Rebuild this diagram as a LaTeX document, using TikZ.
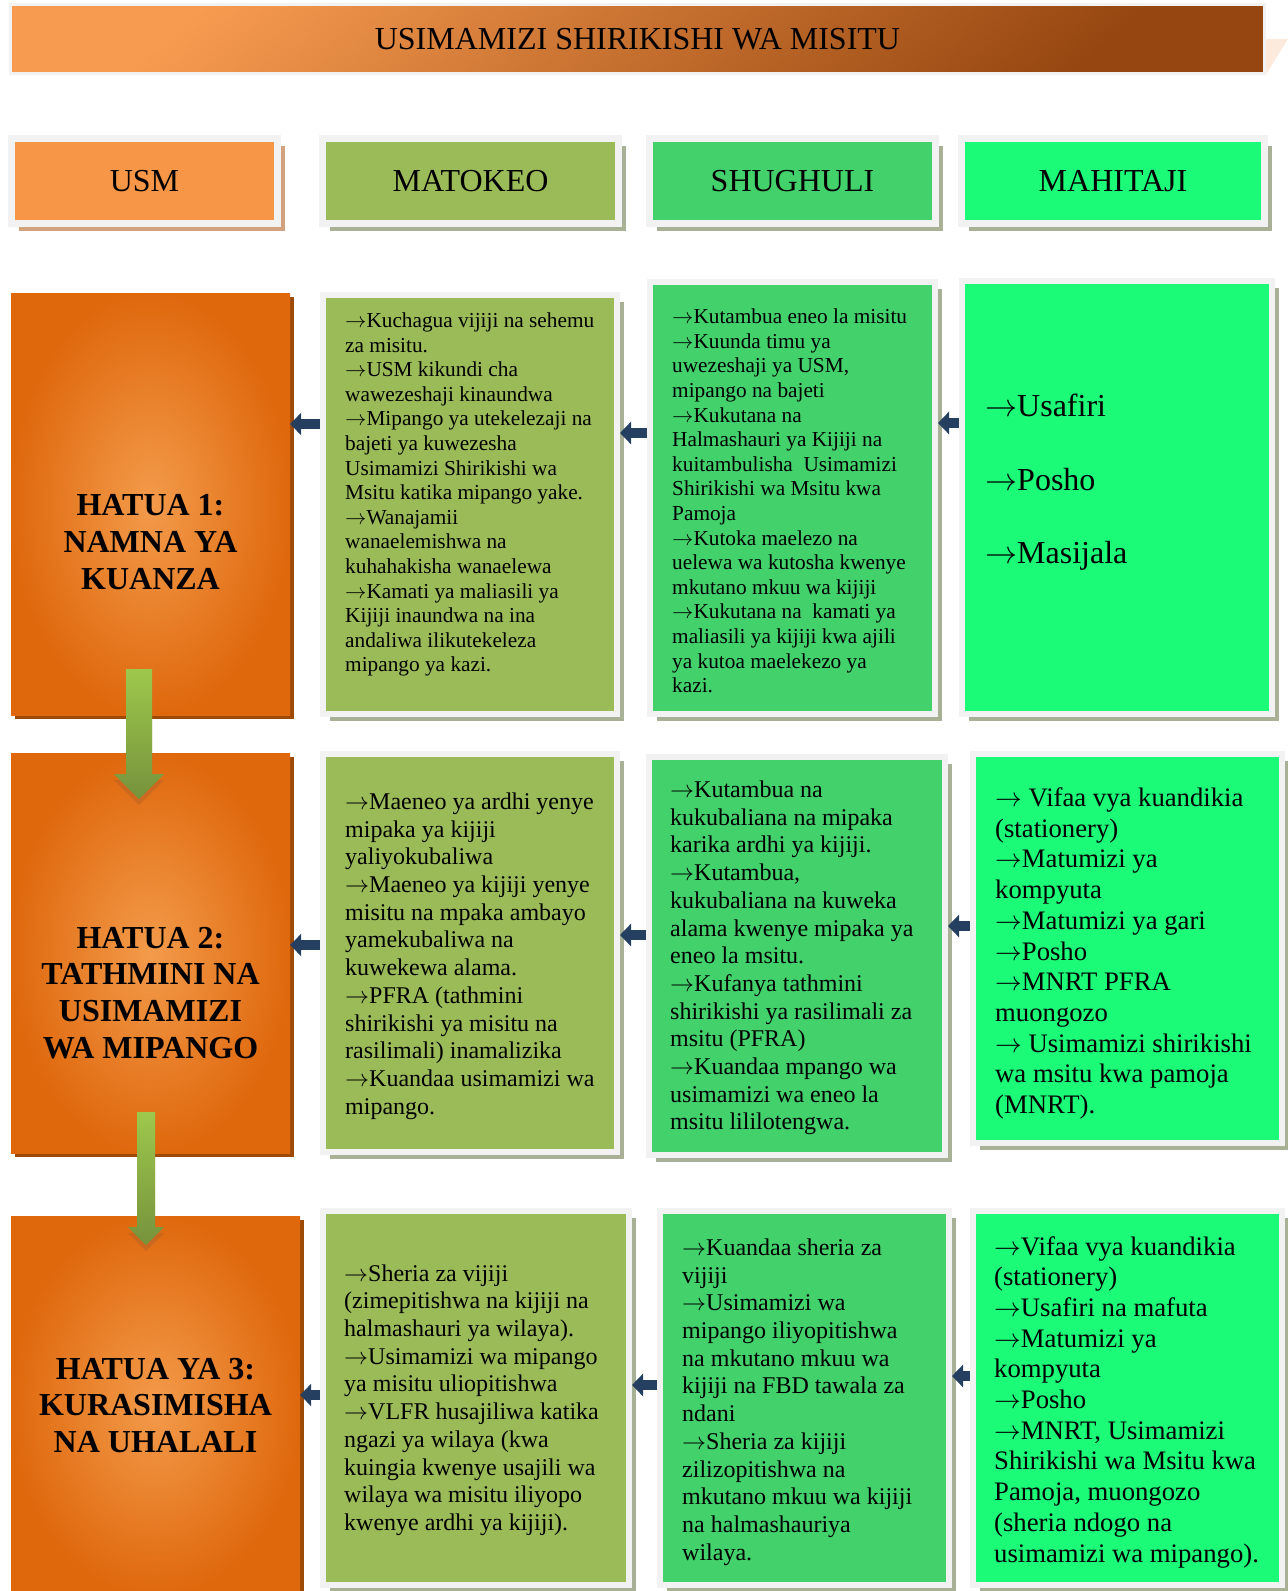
\documentclass[tikz,border=0pt]{standalone}
\usepackage{fontspec}
\setmainfont{Liberation Serif}
\usetikzlibrary{shadows,arrows.meta,calc}

\definecolor{framegray}{HTML}{F2F2F2}
\definecolor{cellshade}{HTML}{A8B095}
\definecolor{usmshade}{HTML}{D2A27F}
\definecolor{usmorange}{HTML}{F79646}
\definecolor{matgreen}{HTML}{9BBB59}
\definecolor{shugreen}{HTML}{43D16B}
\definecolor{mahgreen}{HTML}{1BFB78}
\definecolor{hatuain}{HTML}{F39B4B}
\definecolor{hatuaout}{HTML}{DF680D}
\definecolor{hatuashade}{HTML}{9C4A06}
\definecolor{titlelight}{HTML}{F79B50}
\definecolor{titledark}{HTML}{964610}
\definecolor{titleshade}{HTML}{FCEADC}
\definecolor{navy}{HTML}{243F60}
\definecolor{arrowtop}{HTML}{9DC84C}
\definecolor{arrowbot}{HTML}{76923C}
\definecolor{arrowshade}{HTML}{B0602A}

% long thin arrow in front of each item
\newcommand{\goes}{\resizebox{1em}{!}{$\rightarrow$}}

\tikzset{
  cell/.style={draw=framegray, line width=6pt, inner sep=0pt,
    drop shadow={shadow xshift=7pt, shadow yshift=-7pt, fill=#1, opacity=1}},
  cell/.default=cellshade,
  head/.style={cell=#1, line width=7pt, font=\fontsize{32}{36.8}\selectfont},
  head/.default=cellshade,
  hatua/.style={inner sep=0pt, inner color=hatuain, outer color=hatuaout,
    drop shadow={shadow xshift=4pt, shadow yshift=-4pt, fill=hatuashade, opacity=1}},
  steptext/.style={inner sep=0pt, align=center, font=\fontsize{32}{36.8}\selectfont\bfseries},
  lines/.style={inner sep=0pt, anchor=west, align=left},
  txtS/.style={lines, font=\fontsize{21.3}{24.6}\selectfont},
  txtM/.style={lines, font=\fontsize{24}{27.7}\selectfont},
  txtL/.style={lines, font=\fontsize{26.7}{30.7}\selectfont},
  back/.style={-{Triangle[width=22pt,length=11pt]}, line width=10pt, navy},
}

% green step arrow: #1 top of shaft, #2 tip, #3 half shaft, #4 half head
\newcommand{\stepdown}[4]{%
  \fill[arrowshade, opacity=.45] let \p1=(#1), \p2=(#2) in
    ({\x1-#3},{\y1-6pt}) -- ({\x1+#3},{\y1-6pt}) -- ({\x1+#3},{\y2+#4-6pt}) -- ({\x1+#4},{\y2+#4-6pt})
    -- (\x2,{\y2-6pt}) -- ({\x1-#4},{\y2+#4-6pt}) -- ({\x1-#3},{\y2+#4-6pt}) -- cycle;
  \path[top color=arrowtop, bottom color=arrowbot] let \p1=(#1), \p2=(#2) in
    ({\x1-#3},\y1) -- ({\x1+#3},\y1) -- ({\x1+#3},{\y2+#4}) -- ({\x1+#4},{\y2+#4})
    -- (\x2,\y2) -- ({\x1-#4},{\y2+#4}) -- ({\x1-#3},{\y2+#4}) -- cycle;
}

\begin{document}
\begin{tikzpicture}[x=1pt,y=-1pt]
\useasboundingbox (0,0) rectangle (1288,1591);

% title bar
\fill[titleshade] (1265,39) -- (1288,39) -- (1265,76) -- cycle;
\node[draw=framegray, line width=3pt, top color=titlelight, bottom color=titledark, shading angle=40,
  minimum width=1254pt, minimum height=69pt, font=\fontsize{32}{36.8}\selectfont] (title) at (637.5,39)
  {USIMAMIZI SHIRIKISHI WA MISITU};

% column heads
\node[head=usmshade, fill=usmorange, minimum width=266pt, minimum height=85pt] (hUSM) at (144.5,181) {USM};
\node[head, fill=matgreen, minimum width=296pt, minimum height=85pt] (hMAT) at (470.5,181) {MATOKEO};
\node[head, fill=shugreen, minimum width=286pt, minimum height=85pt] (hSHU) at (792.5,181) {SHUGHULI};
\node[head, fill=mahgreen, minimum width=303pt, minimum height=85pt] (hMAH) at (1113,181) {MAHITAJI};

% hatua 1
\node[hatua, minimum width=279pt, minimum height=422pt] (r1c1) at (150.5,504) {};
\node[steptext] (s1) at ([yshift=-38pt]r1c1.center) {HATUA 1:\\NAMNA YA\\KUANZA};
\node[cell, fill=matgreen, minimum width=294pt, minimum height=419pt] (r1c2) at (470,504.5) {};
\node[cell, fill=shugreen, minimum width=285pt, minimum height=432pt] (r1c3) at (792.5,498) {};
\node[cell, fill=mahgreen, minimum width=310pt, minimum height=433pt] (r1c4) at (1117,497.5) {};

\node[txtS] (t1c2) at ([xshift=25pt,yshift=10pt]r1c2.west) {%
\goes Kuchagua vijiji na sehemu\\
za misitu.\\
\goes USM kikundi cha\\
wawezeshaji kinaundwa\\
\goes Mipango ya utekelezaji na\\
bajeti ya kuwezesha\\
Usimamizi Shirikishi wa\\
Msitu katika mipango yake.\\
\goes Wanajamii\\
wanaelemishwa na\\
kuhahakisha wanaelewa\\
\goes Kamati ya maliasili ya\\
Kijiji inaundwa na ina\\
andaliwa ilikutekeleza\\
mipango ya kazi.};
\node[txtS] (t1c3) at ([xshift=25pt,yshift=-3pt]r1c3.west) {%
\goes Kutambua eneo la misitu\\
\goes Kuunda timu ya\\
uwezeshaji ya USM,\\
mipango na bajeti\\
\goes Kukutana na\\
Halmashauri ya Kijiji na\\
kuitambulisha~ Usimamizi\\
Shirikishi wa Msitu kwa\\
Pamoja\\
\goes Kutoka maelezo na\\
uelewa wa kutosha kwenye\\
mkutano mkuu wa kijiji\\
\goes Kukutana na~ kamati ya\\
maliasili ya kijiji kwa ajili\\
ya kutoa maelekezo ya\\
kazi.};
\node[lines, font=\fontsize{32}{73.5}\selectfont] (t1c4) at ([xshift=26pt,yshift=15pt]r1c4.west) {%
\goes Usafiri\\
\goes Posho\\
\goes Masijala};

% hatua 2
\node[hatua, minimum width=279pt, minimum height=400pt] (r2c1) at (150.5,953) {};
\node[steptext] (s2) at ([yshift=-40pt]r2c1.center) {HATUA 2:\\TATHMINI NA\\USIMAMIZI\\WA MIPANGO};
\node[cell, fill=matgreen, minimum width=294pt, minimum height=398pt] (r2c2) at (470,953) {};
\node[cell, fill=shugreen, minimum width=296pt, minimum height=398pt] (r2c3) at (797,956) {};
\node[cell, fill=mahgreen, minimum width=309pt, minimum height=389pt] (r2c4) at (1127.5,948.5) {};

\node[txtM] (t2c2) at ([xshift=25pt,yshift=-3pt]r2c2.west) {%
\goes Maeneo ya ardhi yenye\\
mipaka ya kijiji\\
yaliyokubaliwa\\
\goes Maeneo ya kijiji yenye\\
misitu na mpaka ambayo\\
yamekubaliwa na\\
kuwekewa alama.\\
\goes PFRA (tathmini\\
shirikishi ya misitu na\\
rasilimali) inamalizika\\
\goes Kuandaa usimamizi wa\\
mipango.};
\node[txtM] (t2c3) at ([xshift=24pt,yshift=-2pt]r2c3.west) {%
\goes Kutambua na\\
kukubaliana na mipaka\\
karika ardhi ya kijiji.\\
\goes Kutambua,\\
kukubaliana na kuweka\\
alama kwenye mipaka ya\\
eneo la msitu.\\
\goes Kufanya tathmini\\
shirikishi ya rasilimali za\\
msitu (PFRA)\\
\goes Kuandaa mpango wa\\
usimamizi wa eneo la\\
msitu lililotengwa.};
\node[txtL] (t2c4) at ([xshift=25pt,yshift=-5pt]r2c4.west) {%
\goes{} Vifaa vya kuandikia\\
(stationery)\\
\goes Matumizi ya\\
kompyuta\\
\goes Matumizi ya gari\\
\goes Posho\\
\goes MNRT PFRA\\
muongozo\\
\goes{} Usimamizi shirikishi\\
wa msitu kwa pamoja\\
(MNRT).};

% hatua 3
\node[hatua, minimum width=289pt, minimum height=379pt] (r3c1) at (155.5,1405.5) {};
\node[steptext] (s3) at (r3c1.center) {HATUA YA 3:\\KURASIMISHA\\NA UHALALI};
\node[cell, fill=matgreen, minimum width=306pt, minimum height=374pt] (r3c2) at (476,1398) {};
\node[cell, fill=shugreen, minimum width=289pt, minimum height=374pt] (r3c3) at (804.5,1398) {};
\node[cell, fill=mahgreen, minimum width=309pt, minimum height=374pt] (r3c4) at (1127.5,1398) {};

\node[txtM] (t3c2) at ([xshift=24pt,yshift=-2pt]r3c2.west) {%
\goes Sheria za vijiji\\
(zimepitishwa na kijiji na\\
halmashauri ya wilaya).\\
\goes Usimamizi wa mipango\\
ya misitu uliopitishwa\\
\goes VLFR husajiliwa katika\\
ngazi ya wilaya (kwa\\
kuingia kwenye usajili wa\\
wilaya wa misitu iliyopo\\
kwenye ardhi ya kijiji).};
\node[txtM] (t3c3) at ([xshift=25pt,yshift=-4pt]r3c3.west) {%
\goes Kuandaa sheria za\\
vijiji\\
\goes Usimamizi wa\\
mipango iliyopitishwa\\
na mkutano mkuu wa\\
kijiji na FBD tawala za\\
ndani\\
\goes Sheria za kijiji\\
zilizopitishwa na\\
mkutano mkuu wa kijiji\\
na halmashauriya\\
wilaya.};
\node[txtL] (t3c4) at ([xshift=24pt,yshift=-4pt]r3c4.west) {%
\goes Vifaa vya kuandikia\\
(stationery)\\
\goes Usafiri na mafuta\\
\goes Matumizi ya\\
kompyuta\\
\goes Posho\\
\goes MNRT, Usimamizi\\
Shirikishi wa Msitu kwa\\
Pamoja, muongozo\\
(sheria ndogo na\\
usimamizi wa mipango).};

% arrows back to the left
\draw[back] (r1c2.west |- 0,424) -- (r1c1.east |- 0,424);
\draw[back] (r1c3.west |- 0,433) -- (r1c2.east |- 0,433);
\draw[back] (r1c4.west |- 0,423) -- (r1c3.east |- 0,423);
\draw[back] (r2c2.west |- 0,945) -- (r2c1.east |- 0,945);
\draw[back] (r2c3.west |- 0,935) -- (r2c2.east |- 0,935);
\draw[back] (r2c4.west |- 0,926) -- (r2c3.east |- 0,926);
\draw[back] (r3c2.west |- 0,1395) -- (r3c1.east |- 0,1395);
\draw[back] (r3c3.west |- 0,1385) -- (r3c2.east |- 0,1385);
\draw[back] (r3c4.west |- 0,1376) -- (r3c3.east |- 0,1376);

% steps down
\coordinate (d1top) at (139,669);
\coordinate (d1tip) at (139,799);
\coordinate (d2top) at (146,1112);
\coordinate (d2tip) at (146,1245);
\stepdown{d1top}{d1tip}{13pt}{25pt}
\stepdown{d2top}{d2tip}{9pt}{18pt}
\end{tikzpicture}
\end{document}
